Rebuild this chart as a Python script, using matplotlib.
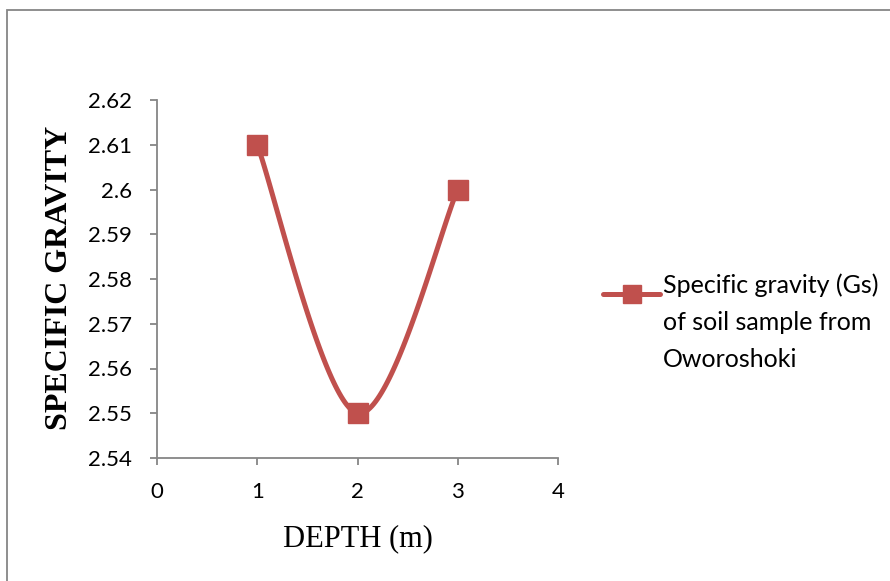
import numpy as np
import matplotlib
matplotlib.use("Agg")
import matplotlib.pyplot as plt
from matplotlib.lines import Line2D
from matplotlib.patches import Rectangle

depth = [1, 2, 3]
gs = [2.61, 2.55, 2.60]
xticks = [0, 1, 2, 3, 4]
yticks = [2.54, 2.55, 2.56, 2.57, 2.58, 2.59, 2.60, 2.61, 2.62]
ytick_labels = ["2.54", "2.55", "2.56", "2.57", "2.58", "2.59", "2.6", "2.61", "2.62"]
series_name = "Specific gravity (Gs)\nof soil sample from\nOworoshoki"

red = "#C0504D"
grey = "#868686"
sans = "Lato"
serif = "Liberation Serif"


def smooth(xs, ys, n=60):
    # spreadsheet-style smoothed line: cubic bezier with 1/6 tangents
    p = np.column_stack([xs, ys]).astype(float)
    pts = []
    for i in range(len(p) - 1):
        p0 = p[i - 1] if i > 0 else p[i]
        p1, p2 = p[i], p[i + 1]
        p3 = p[i + 2] if i + 2 < len(p) else p[i + 1]
        c1 = p1 + (p2 - p0) / 6.0
        c2 = p2 - (p3 - p1) / 6.0
        t = np.linspace(0, 1, n)[:, None]
        seg = ((1 - t) ** 3) * p1 + 3 * ((1 - t) ** 2) * t * c1 \
            + 3 * (1 - t) * t ** 2 * c2 + t ** 3 * p2
        pts.append(seg if i == 0 else seg[1:])
    pts = np.vstack(pts)
    return pts[:, 0], pts[:, 1]


fig = plt.figure(figsize=(8.9, 5.81), dpi=100)
ax = fig.add_axes([157 / 890, 1 - 458 / 581, 401 / 890, 358 / 581])

sx, sy = smooth(depth, gs)
ax.plot(sx, sy, color=red, lw=3.6, solid_capstyle="round", zorder=2)
ax.plot(depth, gs, ls="none", marker="s", ms=14, color=red,
        markeredgecolor=red, zorder=3, clip_on=False)

ax.set_xlim(0, 4)
ax.set_ylim(2.54, 2.62)
ax.set_xticks(xticks)
ax.set_yticks(yticks)
ax.set_yticklabels(ytick_labels)
for s in ["top", "right"]:
    ax.spines[s].set_visible(False)
for s in ["left", "bottom"]:
    ax.spines[s].set_color(grey)
    ax.spines[s].set_linewidth(1.3)
ax.tick_params(axis="both", direction="out", length=5, width=1.3,
               color=grey, labelsize=16)
ax.tick_params(axis="y", pad=13)
ax.tick_params(axis="x", pad=12)
for lab in ax.get_xticklabels() + ax.get_yticklabels():
    lab.set_fontfamily(sans)

ax.set_xlabel("DEPTH (m)", family=serif, fontsize=22, labelpad=16)
ax.set_ylabel("SPECIFIC GRAVITY", family=serif, fontsize=23,
              fontweight="bold", va="center")
ax.yaxis.set_label_coords((59.5 - 157) / 401, (458 - 277.5) / 358)

# legend entry: line with a square marker, text beside it
ly = 1 - 294 / 581
fig.add_artist(Line2D([603 / 890, 631.5 / 890, 660 / 890], [ly, ly, ly],
                      color=red, lw=3.6, marker="s", ms=12.5, markevery=[1],
                      solid_capstyle="round", transform=fig.transFigure))
fig.text(663 / 890, 1 - 367 / 581, series_name, family=sans, fontsize=18,
         va="baseline", ha="left", linespacing=1.73)

# chart frame
fig.add_artist(Rectangle((6.5 / 890, -0.1), 1.2, 1 - 9.5 / 581 + 0.1,
                         fill=False, edgecolor=grey, lw=1.3,
                         transform=fig.transFigure))

fig.savefig("out.png", dpi=100)
